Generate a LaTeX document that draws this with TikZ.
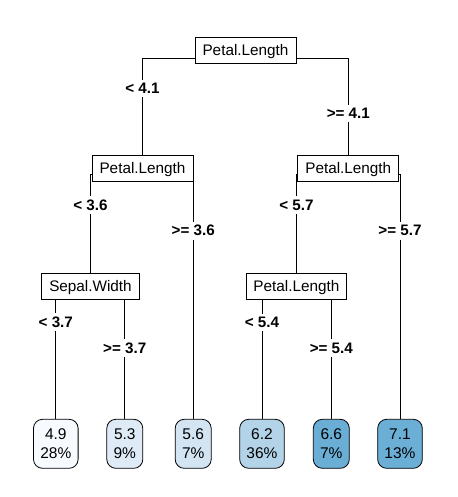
\documentclass[tikz,border=0pt]{standalone}
\usepackage{fontspec}
\setmainfont{Liberation Sans}
\usetikzlibrary{backgrounds}
\definecolor{cA}{HTML}{F7FBFF}
\definecolor{cB}{HTML}{DEEBF7}
\definecolor{cC}{HTML}{D3E4F3}
\definecolor{cD}{HTML}{B3D3E8}
\definecolor{cE}{HTML}{6AAED6}
\definecolor{cF}{HTML}{6BAED6}
\begin{document}
\begin{tikzpicture}[x=1pt,y=-1pt,
  split/.style={draw=black, fill=white, line width=0.8pt, inner xsep=7.5pt, inner ysep=0pt,
    minimum height=26pt, text height=10.9pt, text depth=0pt, font=\fontsize{15.3}{18}\selectfont},
  leaf/.style={draw=black, rounded corners=9pt, line width=0.8pt, inner xsep=6.8pt,
    minimum height=49pt, align=center, font=\fontsize{15.5}{18.7}\selectfont},
  lab/.style={fill=white, inner xsep=1pt, inner ysep=3.5pt, font=\bfseries\fontsize{15.2}{18}\selectfont},
  edge/.style={line width=0.8pt}]
\useasboundingbox (0,0) rectangle (457,497);

% split nodes
\node[split] (n1) at (245.5,50.3) {Petal.Length};
\node[split] (n2) at (142.5,168.4) {Petal.Length};
\node[split] (n3) at (348.3,168.5) {Petal.Length};
\node[split] (n4) at (90.5,286.2) {Sepal.Width};
\node[split] (n7) at (296.4,286.3) {Petal.Length};

% leaves
\node[leaf, fill=cA] (l1) at (55.8,443.8) {4.9\\28\%};
\node[leaf, fill=cB] (l2) at (124.8,443.8) {5.3\\9\%};
\node[leaf, fill=cC] (l3) at (193.2,443.8) {5.6\\7\%};
\node[leaf, fill=cD] (l4) at (262.0,443.8) {6.2\\36\%};
\node[leaf, fill=cE] (l5) at (331.3,443.8) {6.6\\7\%};
\node[leaf, fill=cF] (l6) at (400.0,443.8) {7.1\\13\%};

% levels of the horizontal bars
\coordinate (h1) at (0,58.3);
\coordinate (h2) at (0,174.7);
\coordinate (h4) at (0,292.5);

\begin{scope}[on background layer]
  \fill[white] (0,0) rectangle (457,497);
  \draw[edge] (n2.north) -- (n2.north |- h1) -- (n3.north |- h1) -- (n3.north);
  \draw[edge] (n4.north) -- (n4.north |- h2) -- (l3.north |- h2) -- (l3.north);
  \draw[edge] (n7.north) -- (n7.north |- h2) -- (l6.north |- h2) -- (l6.north);
  \draw[edge] (l1.north) -- (l1.north |- h4) -- (l2.north |- h4) -- (l2.north);
  \draw[edge] (l4.north) -- (l4.north |- h4) -- (l5.north |- h4) -- (l5.north);
\end{scope}

% edge labels
\node[lab] (e2) at (n2.north |- 0,88.3) {< 4.1};
\node[lab] (e3) at (n3.north |- 0,113.3) {>= 4.1};
\node[lab] (e4) at (n4.north |- 0,205) {< 3.6};
\node[lab] (e5) at (l3.north |- 0,230.7) {>= 3.6};
\node[lab] (e7) at (n7.north |- 0,205) {< 5.7};
\node[lab] (e6) at (l6.north |- 0,230.7) {>= 5.7};
\node[lab] (e8) at (l1.north |- 0,322.3) {< 3.7};
\node[lab] (e9) at (l2.north |- 0,348) {>= 3.7};
\node[lab] (e10) at (l4.north |- 0,322.5) {< 5.4};
\node[lab] (e11) at (l5.north |- 0,348) {>= 5.4};
\end{tikzpicture}
\end{document}
